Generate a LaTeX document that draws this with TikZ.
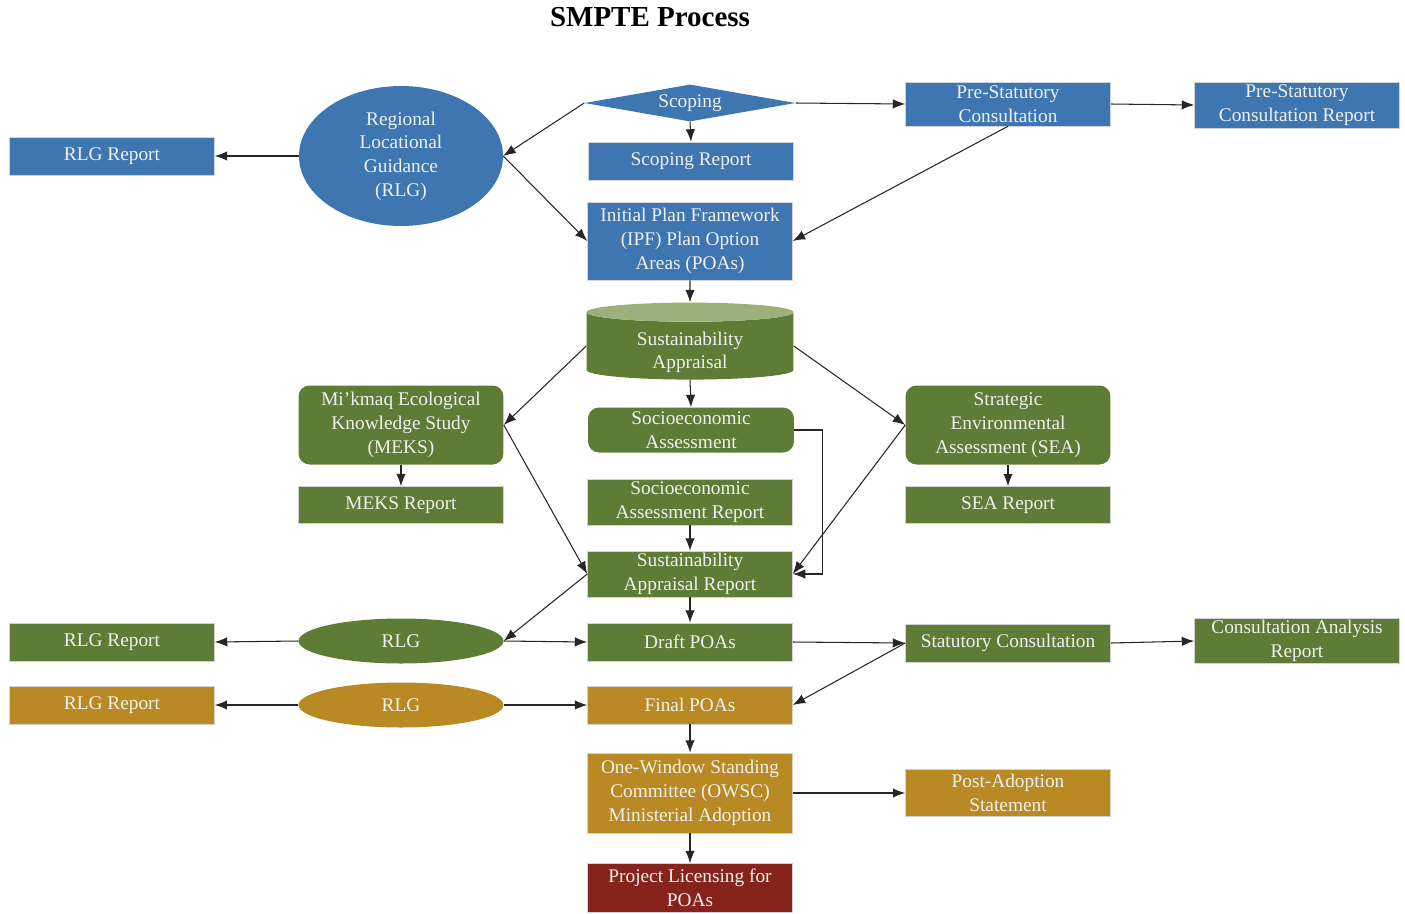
\documentclass[tikz,border=0pt]{standalone}
\usepackage{fontspec}
\setmainfont{Liberation Serif}
\usetikzlibrary{shapes.geometric,arrows.meta}

\definecolor{smblue}{RGB}{61,118,176}
\definecolor{smgreen}{RGB}{95,124,54}
\definecolor{smgreenlight}{RGB}{155,176,122}
\definecolor{smgold}{RGB}{185,138,35}
\definecolor{smred}{RGB}{134,35,26}

\tikzset{
  box/.style={rectangle, draw=gray!35, line width=0.3pt, inner sep=0pt,
    minimum width=4.1cm, minimum height=0.76cm, text=white!94!black,
    align=center, font=\fontsize{11}{13.5}\selectfont},
  bluebox/.style={box, fill=smblue},
  greenbox/.style={box, fill=smgreen},
  goldbox/.style={box, fill=smgold},
  redbox/.style={box, fill=smred},
  roundbox/.style={greenbox, draw=none, rounded corners=0.22cm},
  oval/.style={box, ellipse, draw=none, minimum width=4.1cm, minimum height=0.9cm},
  arr/.style={-{Latex[length=2.5mm,width=1.9mm]}, line width=0.6pt, draw=black!85}
}

\begin{document}
\begin{tikzpicture}[x=0.02cm, y=-0.02cm]
\useasboundingbox (0,0) rectangle (1405,913);

\node[font=\fontsize{16.5}{20}\selectfont\bfseries] (title) at (650,17) {SMPTE Process};

% blue row
\node[bluebox] (rlgrep) at (112,156) {RLG Report};
\node[oval, fill=smblue, minimum width=4.08cm, minimum height=2.8cm] (rlg) at (401,156) {Regional\\Locational\\Guidance\\(RLG)};
\node[box, diamond, draw=none, fill=smblue, aspect=6, minimum width=4.22cm, minimum height=0.74cm] (scope) at (690,103) {Scoping};
\node[bluebox] (scoperep) at (691,161) {Scoping Report};
\node[bluebox, minimum height=0.88cm] (prestat) at (1008,104) {Pre-Statutory\\Consultation};
\node[bluebox, minimum height=0.92cm] (prestatrep) at (1297,105) {Pre-Statutory\\Consultation Report};
\node[bluebox, minimum height=1.56cm] (ipf) at (690,241) {Initial Plan Framework\\(IPF) Plan Option\\Areas (POAs)};

\draw[arr] (rlg.west) -- (rlgrep.east);
\draw[arr] (scope.west) -- (rlg.east);
\draw[arr] (rlg.east) -- (ipf.west);
\draw[arr] (scope.south) -- (scoperep.north);
\draw[arr] (scope.east) -- (prestat.west);
\draw[arr] (prestat.east) -- (prestatrep.west);
\draw[arr] (prestat.south) -- (ipf.east);

% green part
\node[box, cylinder, shape border rotate=90, aspect=0.18, draw=none,
  cylinder uses custom fill, cylinder body fill=smgreen, cylinder end fill=smgreenlight,
  minimum width=4.14cm, minimum height=1.54cm, text height=0.935cm, text depth=0.025cm] (sa) at (690,346) {Sustainability\\Appraisal};
\node[roundbox, minimum height=1.58cm] (meks) at (401,425) {Mi'kmaq Ecological\\Knowledge Study\\(MEKS)};
\node[roundbox, minimum width=4.12cm, minimum height=0.9cm] (socio) at (691,430) {Socioeconomic\\Assessment};
\node[roundbox, minimum height=1.58cm] (sea) at (1008,425) {Strategic\\Environmental\\Assessment (SEA)};
\node[greenbox, minimum height=0.74cm] (meksrep) at (401,505) {MEKS Report};
\node[greenbox, minimum height=0.74cm] (searep) at (1008,505) {SEA Report};
\node[greenbox, minimum height=0.92cm] (sociorep) at (690,502) {Socioeconomic\\Assessment Report};
\node[greenbox, minimum height=0.92cm] (sar) at (690,574) {Sustainability\\Appraisal Report};

\draw[arr] (ipf.south) -- (sa.north);
\draw[arr] (sa.west) -- (meks.east);
\draw[arr] (sa.east) -- (sea.west);
\draw[arr] (sa.south) -- (socio.north);
\draw[arr] (meks.south) -- (meksrep.north);
\draw[arr] (sea.south) -- (searep.north);
\draw[arr] (socio.east) -- ++(28,0) |- (sar.east);
\draw[arr] (sea.west) -- (sar.east);
\draw[arr] (meks.east) -- (sar.west);
\draw[arr] (sociorep.south) -- (sar.north);

% draft and final
\node[greenbox] (rlgrepg) at (112,642) {RLG Report};
\node[oval, fill=smgreen] (rlgg) at (401,641) {RLG};
\node[greenbox] (draft) at (690,642) {Draft POAs};
\node[greenbox] (statcons) at (1008,643) {Statutory Consultation};
\node[greenbox, minimum height=0.9cm] (carep) at (1297,641) {Consultation Analysis\\Report};
\node[goldbox] (rlgrepy) at (112,705) {RLG Report};
\node[oval, fill=smgold] (rlgy) at (401,705) {RLG};
\node[goldbox] (final) at (690,705) {Final POAs};

\draw[arr] (sar.west) -- (rlgg.east);
\draw[arr] (sar.south) -- (draft.north);
\draw[arr] (rlgg.east) -- (draft.west);
\draw[arr] (rlgg.west) -- (rlgrepg.east);
\draw[arr] (draft.east) -- (statcons.west);
\draw[arr] (statcons.east) -- (carep.west);
\draw[arr] (statcons.west) -- (final.east);
\draw[arr] (rlgy.west) -- (rlgrepy.east);
\draw[arr] (rlgy.east) -- (final.west);

% adoption
\node[goldbox, minimum height=1.6cm] (owsc) at (690,793) {One-Window Standing\\Committee (OWSC)\\Ministerial Adoption};
\node[goldbox, minimum height=0.94cm] (postadopt) at (1008,793) {Post-Adoption\\Statement};
\node[redbox, minimum height=0.98cm] (licensing) at (690,888) {Project Licensing for\\POAs};

\draw[arr] (final.south) -- (owsc.north);
\draw[arr] (owsc.east) -- (postadopt.west);
\draw[arr] (owsc.south) -- (licensing.north);

\end{tikzpicture}
\end{document}
